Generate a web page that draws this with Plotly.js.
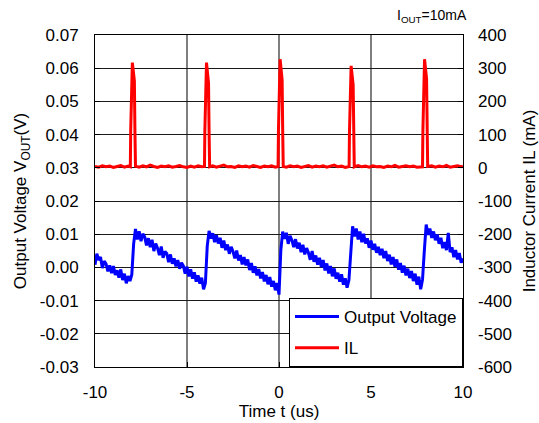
<!DOCTYPE html>
<html>
<head>
<meta charset="utf-8">
<script src="https://cdn.plot.ly/plotly-3.0.1.min.js"></script>
<style>html,body{margin:0;padding:0;background:#fff;}#chart{width:539px;height:423px;}</style>
</head>
<body>
<div id="chart"></div>
<script>
// Output voltage (V), sampled every 0.1 us from -10 us to 10 us
var voltStart = -10;
var voltStep = 0.1;
var outputVoltage = [
  0.0008, 0.0041, 0.0022, 0.0031, -0.0002, 0.0019, 0.0011, -0.0012, 0.0006, -0.0017,
  0.0004, -0.0023, -0.0009, -0.0031, -0.0006, -0.0038, -0.0019, -0.0048, -0.0026, -0.0041,
  -0.0022, 0.0071, 0.0116, 0.0084, 0.0109, 0.0079, 0.0101, 0.0092, 0.0066, 0.0088,
  0.0061, 0.0083, 0.0049, 0.0072, 0.0058, 0.0037, 0.0063, 0.0029, 0.0048, 0.0042,
  0.0016, 0.0039, 0.0011, 0.0027, 0.0003, 0.0022, -0.0004, 0.0014, 0.0005, -0.0019,
  0.0002, -0.0027, -0.0006, -0.0034, -0.0015, -0.0043, -0.0024, -0.0049, -0.0031, -0.0066,
  -0.0047, 0.0064, 0.0110, 0.0087, 0.0103, 0.0076, 0.0097, 0.0072, 0.0089, 0.0059,
  0.0081, 0.0052, 0.0069, 0.0041, 0.0062, 0.0048, 0.0027, 0.0051, 0.0021, 0.0037,
  0.0009, 0.0031, 0.0006, 0.0024, -0.0008, 0.0013, -0.0016, 0.0003, -0.0024, -0.0005,
  -0.0033, -0.0014, -0.0042, -0.0023, -0.0051, -0.0029, -0.0058, -0.0041, -0.0069, -0.0047,
  -0.0082, 0.0052, 0.0108, 0.0086, 0.0104, 0.0071, 0.0095, 0.0082, 0.0061, 0.0085,
  0.0057, 0.0074, 0.0046, 0.0068, 0.0039, 0.0058, 0.0044, 0.0023, 0.0049, 0.0017,
  0.0036, 0.0008, 0.0029, 0.0001, 0.0022, -0.0009, 0.0012, -0.0018, 0.0004, -0.0027,
  -0.0003, -0.0034, -0.0016, -0.0043, -0.0021, -0.0052, -0.0033, -0.0061, -0.0038, 0.0041,
  0.0124, 0.0093, 0.0117, 0.0084, 0.0108, 0.0076, 0.0101, 0.0072, 0.0088, 0.0059,
  0.0081, 0.0053, 0.0071, 0.0044, 0.0062, 0.0037, 0.0056, 0.0028, 0.0049, 0.0019,
  0.0038, 0.0009, 0.0031, 0.0002, 0.0024, -0.0007, 0.0013, -0.0016, 0.0005, -0.0024,
  -0.0004, -0.0032, -0.0011, -0.0041, -0.0019, -0.0052, -0.0028, -0.0066, -0.0037, 0.0052,
  0.0129, 0.0098, 0.0117, 0.0089, 0.0108, 0.0082, 0.0099, 0.0071, 0.0089, 0.0058,
  0.0076, 0.0052, 0.0104, 0.0046, 0.0061, 0.0031, 0.0052, 0.0024, 0.0043, 0.0014,
  0.0027
];

// Inductor current IL (mA)
var ilTime = [
  -10.0, -9.8, -9.6, -9.4, -9.2, -9.0, -8.8, -8.6, -8.4, -8.2, -8.08,
  -8.06, -7.97, -7.86, -7.83, -7.80,
  -7.6, -7.4, -7.2, -7.0, -6.8, -6.6, -6.4, -6.2, -6.0, -5.8, -5.6, -5.4, -5.2, -5.0, -4.8, -4.6, -4.4, -4.2, -4.05,
  -4.03, -3.94, -3.83, -3.80, -3.77,
  -3.6, -3.4, -3.2, -3.0, -2.8, -2.6, -2.4, -2.2, -2.0, -1.8, -1.6, -1.4, -1.2, -1.0, -0.8, -0.6, -0.4, -0.2, -0.05,
  -0.03, 0.06, 0.17, 0.20, 0.23,
  0.4, 0.6, 0.8, 1.0, 1.2, 1.4, 1.6, 1.8, 2.0, 2.2, 2.4, 2.6, 2.8, 3.0, 3.2, 3.4, 3.6, 3.81,
  3.83, 3.92, 4.03, 4.06, 4.09,
  4.3, 4.5, 4.7, 4.9, 5.1, 5.3, 5.5, 5.7, 5.9, 6.1, 6.3, 6.5, 6.7, 6.9, 7.1, 7.3, 7.5, 7.7, 7.80,
  7.82, 7.91, 8.02, 8.05, 8.08,
  8.3, 8.5, 8.7, 8.9, 9.1, 9.3, 9.5, 9.7, 9.9, 10.0
];
var ilCurrent = [
  4, 2, 6, 3, 5, 1, 4, 7, 2, 5, 3,
  112, 317, 262, 110, 5,
  2, 6, 3, 8, 4, 1, 5, 3, 6, 2, 4, 7, 3, 1, 5, 2, 6, 3, 4,
  110, 317, 255, 108, 3,
  6, 2, 5, 8, 3, 4, 1, 6, 3, 5, 2, 7, 4, 1, 5, 3, 6, 2, 4,
  112, 327, 265, 115, 4,
  2, 6, 3, 5, 1, 4, 7, 2, 5, 3, 6, 2, 4, 8, 3, 5, 1, 4,
  108, 307, 250, 105, 3,
  7, 3, 5, 2, 6, 3, 4, 1, 5, 3, 7, 2, 4, 6, 3, 5, 2, 4, 3,
  110, 327, 268, 112, 4,
  6, 2, 5, 3, 7, 2, 4, 6, 3, 5
];

// Tick labels (plain hyphen minus as in the reference)
var timeTickVals = [-10, -5, 0, 5, 10];
var timeTickText = ['-10', '-5', '0', '5', '10'];
var voltTickVals = [-0.03, -0.02, -0.01, 0, 0.01, 0.02, 0.03, 0.04, 0.05, 0.06, 0.07];
var voltTickText = ['-0.03', '-0.02', '-0.01', '0.00', '0.01', '0.02', '0.03', '0.04', '0.05', '0.06', '0.07'];
var ilTickVals = [-600, -500, -400, -300, -200, -100, 0, 100, 200, 300, 400];
var ilTickText = ['-600', '-500', '-400', '-300', '-200', '-100', '0', '100', '200', '300', '400'];

var seriesNames = ['Output Voltage', 'IL'];

var FONT = 'Liberation Sans, Arial, sans-serif';

var traces = [
  {
    type: 'scatter', mode: 'lines', name: seriesNames[0],
    x0: voltStart, dx: voltStep, y: outputVoltage,
    line: {color: '#0000ff', width: 3},
    yaxis: 'y', legendgroup: 'a'
  },
  {
    type: 'scatter', mode: 'lines', name: seriesNames[1],
    x: ilTime, y: ilCurrent,
    line: {color: '#ff0000', width: 3},
    yaxis: 'y2', legendgroup: 'b'
  }
];

var layout = {
  width: 539, height: 423,
  margin: {l: 95, r: 76, t: 35, b: 56},
  paper_bgcolor: '#fff', plot_bgcolor: '#fff',
  font: {family: FONT, size: 17, color: '#000'},
  showlegend: true,
  legend: {
    x: 1, xanchor: 'right', y: 0, yanchor: 'bottom',
    bgcolor: '#fff', bordercolor: '#000', borderwidth: 1,
    font: {family: FONT, size: 17, color: '#000'},
    tracegroupgap: 6, itemwidth: 44
  },
  xaxis: {
    range: [-10, 10], tickvals: timeTickVals, ticktext: timeTickText,
    ticks: 'inside', ticklen: 5, tickcolor: '#000',
    showgrid: true, gridcolor: '#7f7f7f', gridwidth: 1.5,
    showline: true, linecolor: '#000', linewidth: 1, mirror: true,
    zeroline: false, ticklabelstandoff: 10,
    tickfont: {family: FONT, size: 17, color: '#000'},
    title: {text: 'Time t (us)', font: {family: FONT, size: 17, color: '#000'}, standoff: 2}
  },
  yaxis: {
    range: [-0.03, 0.07], tickvals: voltTickVals, ticktext: voltTickText,
    ticks: 'inside', ticklen: 5, tickcolor: '#000',
    showgrid: true, gridcolor: '#1a1a1a', gridwidth: 1,
    showline: true, linecolor: '#000', linewidth: 1, mirror: true,
    zeroline: false, ticklabelstandoff: 12,
    tickfont: {family: FONT, size: 17, color: '#000'},
    title: {text: 'Output Voltage V<sub>OUT</sub>(V)', font: {family: FONT, size: 17, color: '#000'}, standoff: 8}
  },
  yaxis2: {
    overlaying: 'y', side: 'right',
    range: [-600, 400], tickvals: ilTickVals, ticktext: ilTickText,
    ticks: 'inside', ticklen: 5, tickcolor: '#000',
    showgrid: false, zeroline: false, showline: false,
    ticklabelstandoff: 14,
    tickfont: {family: FONT, size: 17, color: '#000'},
    title: {text: 'Inductor Current IL (mA)', font: {family: FONT, size: 17, color: '#000'}, standoff: 16}
  },
  annotations: [
    {
      xref: 'paper', yref: 'paper', x: 0.916, y: 1.057,
      xanchor: 'center', yanchor: 'middle', showarrow: false,
      text: 'I<sub>OUT</sub>=10mA',
      font: {family: FONT, size: 14, color: '#000'}
    }
  ]
};

Plotly.newPlot('chart', traces, layout, {displayModeBar: false, staticPlot: true});
</script>
</body>
</html>
